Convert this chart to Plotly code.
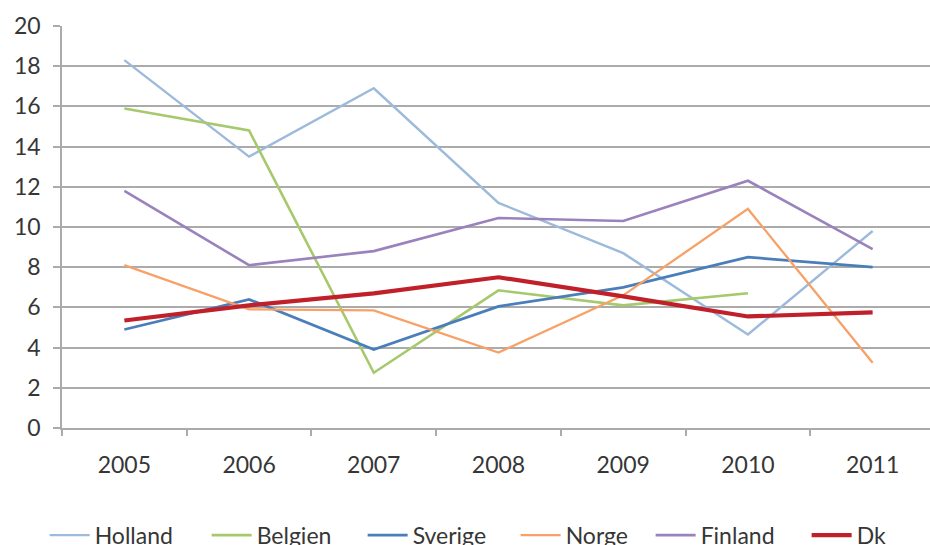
import plotly.graph_objects as go

years = ["2005", "2006", "2007", "2008", "2009", "2010", "2011"]

holland = [18.3, 13.5, 16.9, 11.2, 8.7, 4.65, 9.8]
belgien = [15.9, 14.8, 2.75, 6.85, 6.1, 6.7, None]
sverige = [4.9, 6.4, 3.9, 6.05, 7.0, 8.5, 8.0]
norge = [8.1, 5.9, 5.85, 3.75, 6.6, 10.9, 3.25]
finland = [11.8, 8.1, 8.8, 10.45, 10.3, 12.3, 8.9]
dk = [5.35, 6.1, 6.7, 7.5, 6.55, 5.55, 5.75]

y_ticks = list(range(0, 21, 2))

# name, values, colour, line width, legend entry width
series = [
    ("Holland", holland, "#9DBADB", 2.4, 107),
    ("Belgien", belgien, "#A5C96C", 2.6, 101),
    ("Sverige", sverige, "#4A7EBB", 2.8, 98),
    ("Norge", norge, "#F7A168", 2.3, 80),
    ("Finland", finland, "#9A82BD", 2.6, 101),
    ("Dk", dk, "#C0202A", 4.2, 40),
]

FONT = "Lato, 'Open Sans', sans-serif"
TEXT = "#363636"
GRID = "#ababab"
FS = 23

fig = go.Figure()
for name, vals, color, w, lw in series:
    fig.add_trace(go.Scatter(
        x=years, y=vals, name=name, mode="lines",
        line=dict(color=color, width=w),
        connectgaps=False,
        legendwidth=lw,
    ))

fig.update_layout(
    width=930, height=545,
    margin=dict(l=62, r=0, t=26, b=117),
    paper_bgcolor="white", plot_bgcolor="white",
    font=dict(family=FONT, size=FS, color=TEXT),
    showlegend=True,
    legend=dict(
        orientation="h",
        xref="container", yref="container",
        x=0.048, xanchor="left",
        y=0.018, yanchor="middle",
        font=dict(family=FONT, size=FS, color=TEXT),
        itemwidth=40,
        tracegroupgap=0,
    ),
)

fig.update_xaxes(
    type="category",
    range=[-0.5, 6.46],
    showgrid=False,
    showline=True, linecolor=GRID, linewidth=1.5,
    ticks="outside", ticklen=6, tickcolor=GRID, tickwidth=1.5,
    tickson="boundaries",
    ticklabelstandoff=16,
    tickfont=dict(family=FONT, size=FS, color=TEXT),
    zeroline=False,
)

fig.update_yaxes(
    range=[0, 20],
    tickvals=y_ticks,
    showgrid=True, gridcolor=GRID, gridwidth=1.5,
    showline=True, linecolor=GRID, linewidth=1.5,
    ticks="outside", ticklen=7, tickcolor=GRID, tickwidth=1.5,
    ticklabelstandoff=8,
    tickfont=dict(family=FONT, size=FS, color=TEXT),
    zeroline=False,
)

fig.write_html("out.html")
